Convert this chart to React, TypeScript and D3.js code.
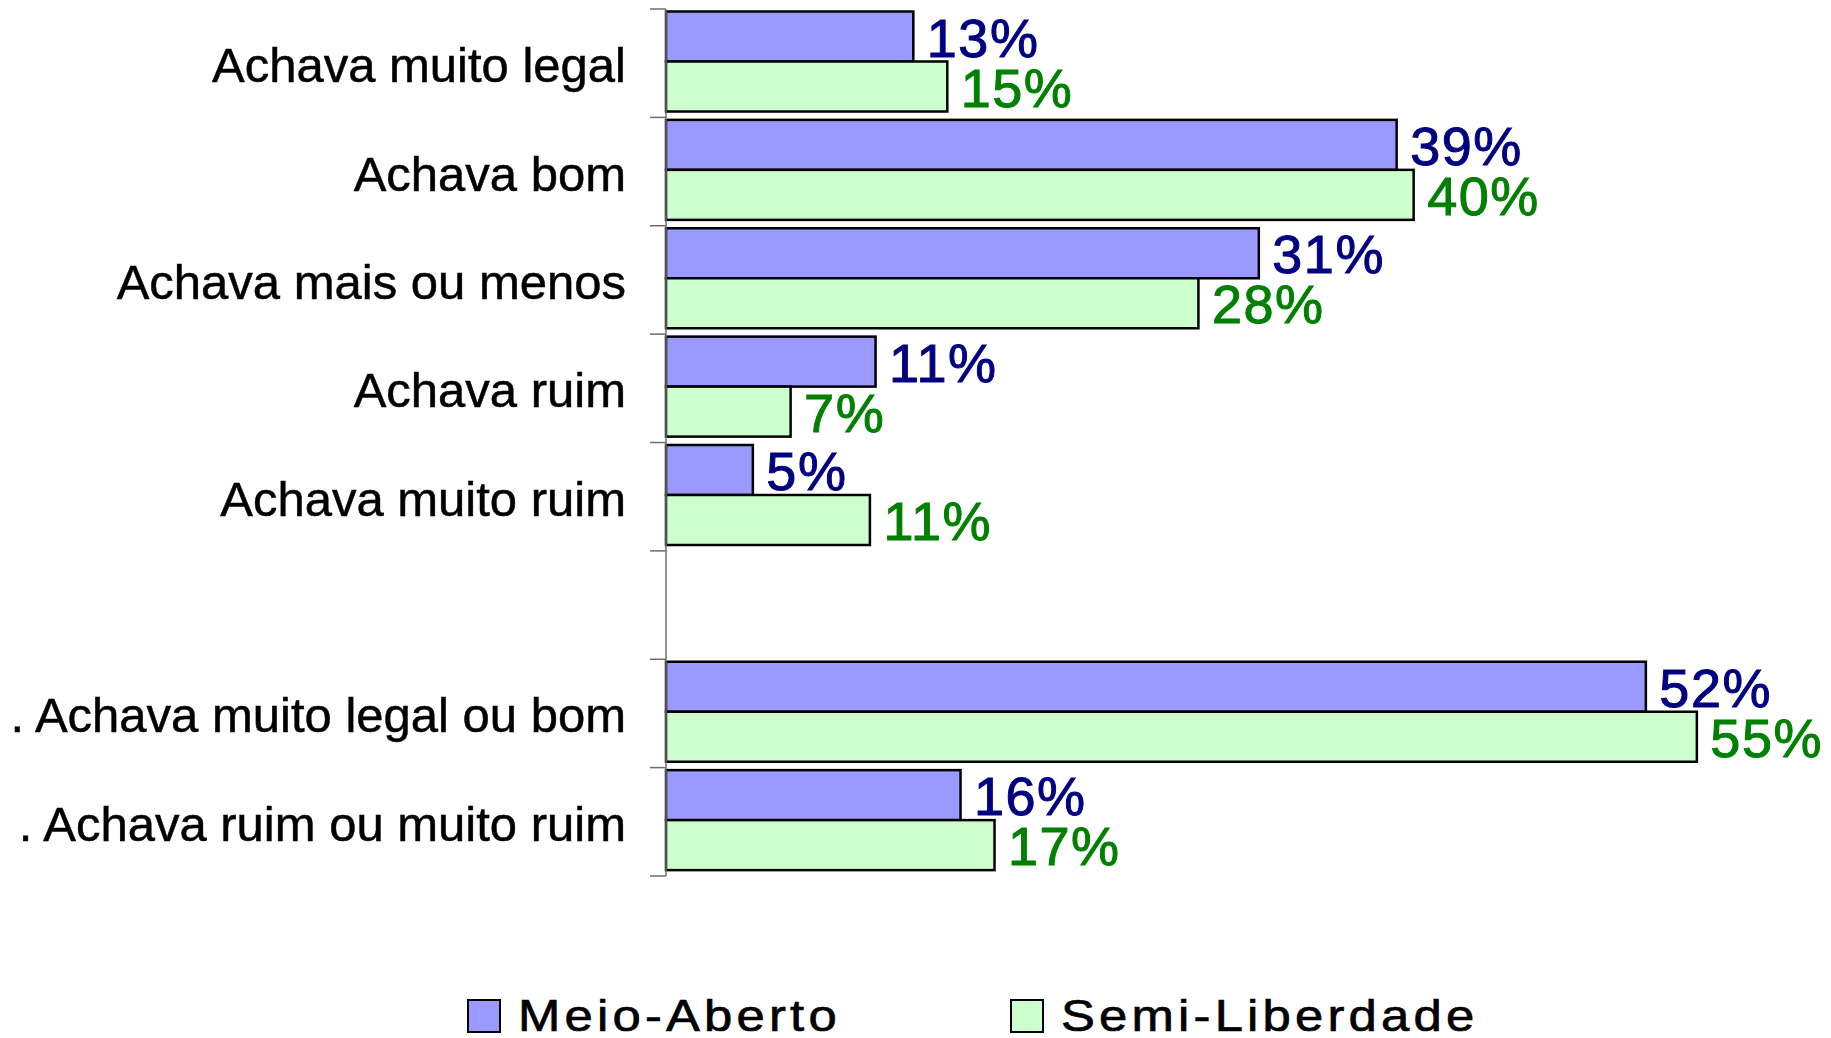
import React, {useEffect, useRef} from "react";
import * as d3 from "d3";

// categories (the blank one is the gap between the detail and the summary rows)
const categories = [
    "Achava muito legal",
    "Achava bom",
    "Achava mais ou menos",
    "Achava ruim",
    "Achava muito ruim",
    "",
    ". Achava muito legal ou bom",
    ". Achava ruim ou muito ruim",
];
// values; the labels show them rounded
const meioAberto: (number | null)[] = [13.1, 38.7, 31.4, 11.1, 4.6, null, 51.9, 15.6];
const semiLiberdade: (number | null)[] = [14.9, 39.6, 28.2, 6.6, 10.8, null, 54.6, 17.4];
const seriesNames = ["Meio-Aberto", "Semi-Liberdade"];

const FONT = "'Liberation Sans', Arial, sans-serif";

export default function App() {
    const ref = useRef<SVGSVGElement | null>(null);

    useEffect(() => {
        const svg = d3.select(ref.current);
        svg.selectAll("*").remove();

        const x0 = 666;

        const x = d3.scaleLinear().domain([0, 60]).range([x0, x0 + 60 * 18.88]);
        const y = d3.scaleBand<string>().domain(categories).range([9, 876]).padding(0);
        const inner = d3.scaleBand<string>().domain(seriesNames).range([2.5, 102.5]).padding(0);

        const fills = ["#9999ff", "#ccffcc"];
        const labelColors = ["#000080", "#008000"];

        const rows = categories.map((c, i) => ({
            cat: c,
            vals: [meioAberto[i], semiLiberdade[i]],
        }));

        // the bars
        rows.forEach((r) => {
            r.vals.forEach((v, s) => {
                if (v === null) return;
                const yy = (y(r.cat) as number) + (inner(seriesNames[s]) as number);
                svg.append("rect")
                    .attr("x", x(0))
                    .attr("y", yy)
                    .attr("width", x(v) - x(0))
                    .attr("height", inner.bandwidth())
                    .attr("fill", fills[s])
                    .attr("stroke", "#000")
                    .attr("stroke-width", 2.5);
            });
        });

        // value labels
        rows.forEach((r) => {
            r.vals.forEach((v, s) => {
                if (v === null) return;
                const yy = (y(r.cat) as number) + (inner(seriesNames[s]) as number) + inner.bandwidth() / 2;
                svg.append("text")
                    .attr("x", x(v) + 13.5)
                    .attr("y", yy + 20)
                    .attr("fill", labelColors[s])
                    .attr("stroke", labelColors[s])
                    .attr("stroke-width", 1)
                    .style("font-family", FONT)
                    .style("font-size", "54px")
                    .style("letter-spacing", "1.5px")
                    .text(Math.round(v) + "%");
            });
        });

        // vertical axis with ticks between categories
        const axis = svg.append("g");
        axis.append("line")
            .attr("x1", x0).attr("x2", x0)
            .attr("y1", y.range()[0]).attr("y2", y.range()[1])
            .attr("stroke", "#6e6e6e")
            .attr("stroke-width", 1.5);
        const boundaries = categories.map((c) => y(c) as number).concat([y.range()[1]]);
        axis.selectAll("line.tick")
            .data(boundaries)
            .join("line")
            .attr("class", "tick")
            .attr("x1", x0 - 16).attr("x2", x0)
            .attr("y1", (d) => d).attr("y2", (d) => d)
            .attr("stroke", "#6e6e6e")
            .attr("stroke-width", 1.5);

        // category labels
        svg.selectAll("text.cat")
            .data(categories.filter((c) => c !== ""))
            .join("text")
            .attr("class", "cat")
            .attr("x", 626)
            .attr("y", (d) => (y(d) as number) + y.bandwidth() / 2 + 19)
            .attr("text-anchor", "end")
            .attr("fill", "#000")
            .attr("stroke", "#000")
            .attr("stroke-width", 0.5)
            .style("font-family", FONT)
            .style("font-size", "49px")
            .text((d) => d);

        // legend
        const legendX = [468, 1011];
        seriesNames.forEach((name, s) => {
            svg.append("rect")
                .attr("x", legendX[s])
                .attr("y", 1000)
                .attr("width", 32)
                .attr("height", 32)
                .attr("fill", fills[s])
                .attr("stroke", "#000")
                .attr("stroke-width", 2);
            svg.append("text")
                .attr("transform", `translate(${legendX[s] + 50},1031) scale(1.13,1)`)
                .attr("fill", "#000")
                .attr("stroke", "#000")
                .attr("stroke-width", 0.7)
                .style("font-family", FONT)
                .style("font-size", "45px")
                .style("letter-spacing", "3.7px")
                .text(name);
        });
    }, []);

    return (
        <svg
            ref={ref}
            width={1831}
            height={1038}
            style={{position: "absolute", left: 0, top: 0, background: "#fff"}}
        />
    );
}
